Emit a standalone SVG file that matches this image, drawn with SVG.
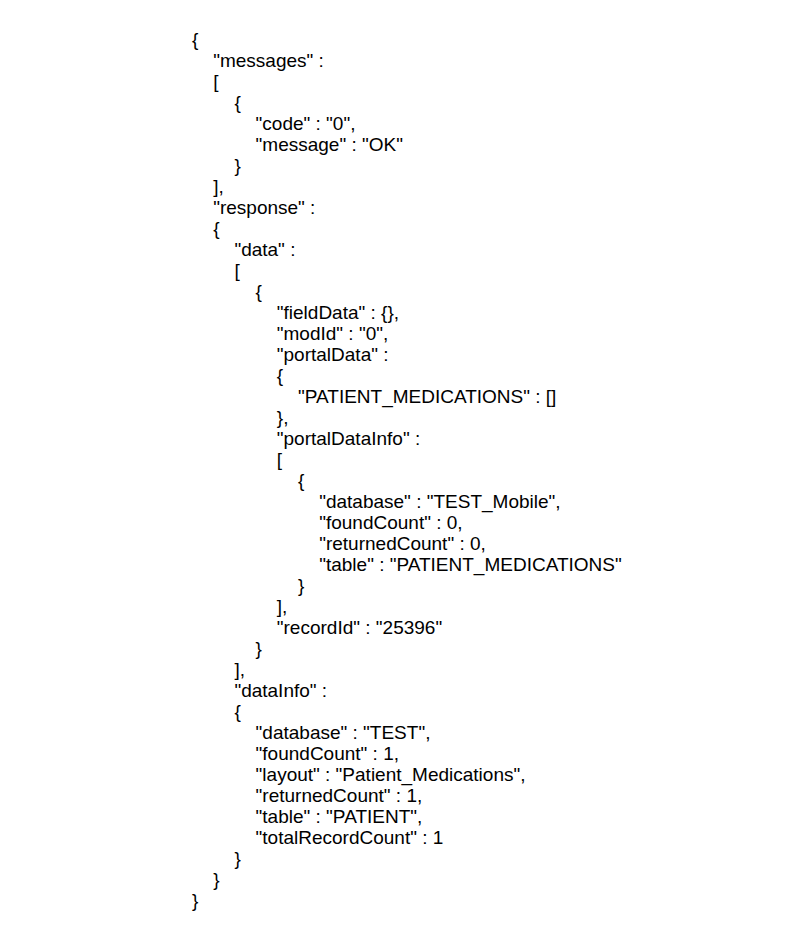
<svg xmlns="http://www.w3.org/2000/svg" width="798" height="948" viewBox="0 0 798 948">
<style>
text { font-family: "Liberation Sans", Arial, sans-serif; font-size: 19px; fill: #000; }
</style>
<rect width="798" height="948" fill="#fff"/>
<g id="json">
<text x="192" y="46">{</text>
<text x="213.2" y="67">"messages" :</text>
<text x="213.2" y="88">[</text>
<text x="234.4" y="109">{</text>
<text x="255.6" y="130">"code" : "0",</text>
<text x="255.6" y="151">"message" : "OK"</text>
<text x="234.4" y="172">}</text>
<text x="213.2" y="193">],</text>
<text x="213.2" y="214">"response" :</text>
<text x="213.2" y="235">{</text>
<text x="234.4" y="256">"data" :</text>
<text x="234.4" y="277">[</text>
<text x="255.6" y="298">{</text>
<text x="276.8" y="319">"fieldData" : {},</text>
<text x="276.8" y="340">"modId" : "0",</text>
<text x="276.8" y="361">"portalData" :</text>
<text x="276.8" y="382">{</text>
<text x="298" y="403">"PATIENT_MEDICATIONS" : []</text>
<text x="276.8" y="424">},</text>
<text x="276.8" y="445">"portalDataInfo" :</text>
<text x="276.8" y="466">[</text>
<text x="298" y="487">{</text>
<text x="319.2" y="508">"database" : "TEST_Mobile",</text>
<text x="319.2" y="529">"foundCount" : 0,</text>
<text x="319.2" y="550">"returnedCount" : 0,</text>
<text x="319.2" y="571">"table" : "PATIENT_MEDICATIONS"</text>
<text x="298" y="592">}</text>
<text x="276.8" y="613">],</text>
<text x="276.8" y="634">"recordId" : "25396"</text>
<text x="255.6" y="655">}</text>
<text x="234.4" y="676">],</text>
<text x="234.4" y="697">"dataInfo" :</text>
<text x="234.4" y="718">{</text>
<text x="255.6" y="739">"database" : "TEST",</text>
<text x="255.6" y="760">"foundCount" : 1,</text>
<text x="255.6" y="781">"layout" : "Patient_Medications",</text>
<text x="255.6" y="802">"returnedCount" : 1,</text>
<text x="255.6" y="823">"table" : "PATIENT",</text>
<text x="255.6" y="844">"totalRecordCount" : 1</text>
<text x="234.4" y="865">}</text>
<text x="213.2" y="886">}</text>
<text x="192" y="907">}</text>
</g>
</svg>
